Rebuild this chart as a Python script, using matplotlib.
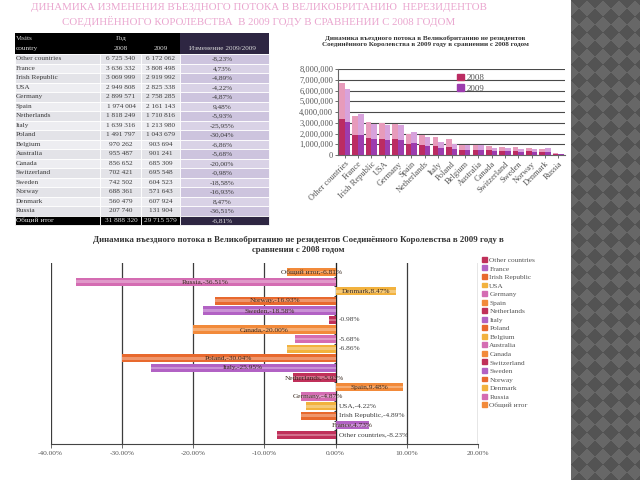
import matplotlib

matplotlib.use('Agg')  # no display
import matplotlib.pyplot as plt
import numpy as np
from matplotlib.patches import Rectangle, Patch

plt.rcParams['font.family'] = ['Liberation Serif', 'DejaVu Serif']

# data
countries = ['Other countries', 'France', 'Irish Republic', 'USA', 'Germany', 'Spain',
             'Netherlands', 'Italy', 'Poland', 'Belgium', 'Australia', 'Canada',
             'Switzerland', 'Sweden', 'Norway', 'Denmark', 'Russia']
visits_2008 = [6725340, 3636332, 3069999, 2949808, 2899571, 1974004, 1818249, 1639316,
               1491797, 970262, 955487, 856652, 702421, 742502, 688361, 560479, 207740]
visits_2009 = [6172062, 3808498, 2919992, 2825338, 2758285, 2161143, 1710816, 1213980,
               1043679, 903694, 901241, 685309, 695548, 604523, 571643, 607924, 131904]
change_pct = [-8.23, 4.73, -4.89, -4.22, -4.87, 9.48, -5.93, -25.95, -30.04, -6.86,
              -5.68, -20.00, -0.98, -18.58, -16.93, 8.47, -36.51]
total_name = 'Общий итог'
total_2008 = 31888320
total_2009 = 29715579
total_change = -6.81

slide_title = ['ДИНАМИКА ИЗМЕНЕНИЯ ВЪЕЗДНОГО ПОТОКА В ВЕЛИКОБРИТАНИЮ  НЕРЕЗИДЕНТОВ',
               'СОЕДИНЁННОГО КОРОЛЕВСТВА  В 2009 ГОДУ В СРАВНЕНИИ С 2008 ГОДОМ']
chart1_title = ('Динамика въездного потока в Великобританию не резидентов\n'
                'Соединённого Королевства в 2009 году в сравнении с 2008 годом')
chart2_title = ('Динамика въездного потока в Великобританию не резидентов '
                'Соединённого Королевства в 2009 году в\nсравнении с 2008 годом')

# labels of these bars sit right of zero instead of inside the bar
outside_labels = {'USA', 'Irish Republic', 'Other countries', 'Switzerland', 'Australia', 'Belgium'}
value_only = {'Switzerland', 'Australia', 'Belgium'}

bar_cycle = ['#c0305a', '#b262c4', '#e8692e', '#f2b23e', '#d46cb2', '#f28a3a']


def fmt_int(v):
    return '{:,}'.format(v).replace(',', ' ')


def fmt_pct(v):
    return '{:.2f}%'.format(v).replace('.', ',')


fig = plt.figure(figsize=(6.4, 4.8), dpi=100)

# page layer in pixel coordinates
bg = fig.add_axes([0, 0, 1, 1], zorder=0)
bg.set_xlim(0, 640)
bg.set_ylim(480, 0)
bg.axis('off')

# dark checkered strip on the right
yy, xx = np.mgrid[0:480, 0:69]
s = 16
pattern = (((xx + yy) // s) + ((xx - yy) // s)) % 2
bg.imshow(pattern, cmap=matplotlib.colors.ListedColormap(['#535353', '#676767']),
          extent=(571, 640, 480, 0), aspect='auto', interpolation='nearest')

# slide title
for k, line in enumerate(slide_title):
    bg.text(259, 7.5 + 14 * k, line, ha='center', va='center', fontsize=7.8, color='#eaa6cf')

# ---- table ----
col_edges = [15, 100, 141, 180, 269]
row_h = 9.5
head_top, head_bot = 33, 54.2
bg.add_patch(Rectangle((col_edges[0], head_top), col_edges[3] - col_edges[0], head_bot - head_top,
                       facecolor='black', edgecolor='none'))
bg.add_patch(Rectangle((col_edges[3], head_top), col_edges[4] - col_edges[3], head_bot - head_top,
                       facecolor='#2e2642', edgecolor='none'))
hdr = dict(fontsize=5.2, color='#d8d8d8', va='center')
bg.text(16, 38.5, 'Visits', ha='left', **hdr)
bg.text(16, 48.5, 'country', ha='left', **hdr)
bg.text(121, 38.5, 'Год', ha='center', **hdr)
bg.text(121, 48.5, '2008', ha='center', **hdr)
bg.text(160.5, 48.5, '2009', ha='center', **hdr)
bg.text(222, 48.5, 'Изменение 2009/2009', ha='center', **hdr)

cell_txt = dict(fontsize=5.2, color='#3a3a3a', va='center')
rows = list(zip(countries, visits_2008, visits_2009, change_pct))
for i, (name, a, b, c) in enumerate(rows):
    y0 = head_bot + i * row_h
    gray = '#e3e3e8' if i % 2 == 0 else '#ededf1'
    lav = '#cdc4de' if i % 2 == 0 else '#d9d2e6'
    for j in range(4):
        bg.add_patch(Rectangle((col_edges[j], y0), col_edges[j + 1] - col_edges[j], row_h,
                               facecolor=lav if j == 3 else gray, edgecolor='white', lw=0.6))
    yc = y0 + row_h / 2
    bg.text(16, yc, name, ha='left', **cell_txt)
    bg.text(121, yc, fmt_int(a), ha='center', **cell_txt)
    bg.text(160.5, yc, fmt_int(b), ha='center', **cell_txt)
    bg.text(222, yc, fmt_pct(c), ha='center', **cell_txt)

y0 = head_bot + len(rows) * row_h
for j in range(4):
    bg.add_patch(Rectangle((col_edges[j], y0), col_edges[j + 1] - col_edges[j], row_h,
                           facecolor='#2e2642' if j == 3 else 'black', edgecolor='white', lw=0.6))
tot = dict(fontsize=5.2, color='#e0e0e0', va='center')
yc = y0 + row_h / 2
bg.text(16, yc, total_name, ha='left', **tot)
bg.text(121, yc, fmt_int(total_2008), ha='center', **tot)
bg.text(160.5, yc, fmt_int(total_2009), ha='center', **tot)
bg.text(222, yc, fmt_pct(total_change), ha='center', **tot)

# ---- column chart ----
bg.text(425, 41.5, chart1_title, ha='center', va='center', fontsize=5.1, fontweight='bold',
        color='#333333', linespacing=1.25)

ax1 = fig.add_axes([338 / 640, 1 - 155 / 480, (565 - 338) / 640, (155 - 69) / 480], zorder=1)
ax1.set_facecolor('none')
x = np.arange(len(countries))
v08 = np.array(visits_2008)
v09 = np.array(visits_2009)
w = 0.42
ax1.bar(x - w / 2, v08, w, color='#e79bbb', zorder=3)
ax1.bar(x - w / 2, v08 / 2, w, color='#bb2c62', zorder=3)
ax1.bar(x + w / 2, v09, w, color='#d7a2dc', zorder=3)
ax1.bar(x + w / 2, v09 / 2, w, color='#9c3cae', zorder=3)
ax1.set_xlim(-0.5, len(countries) - 0.5)
ax1.set_ylim(0, 8000000)
ax1.set_yticks(np.arange(0, 8000001, 1000000))
ax1.set_yticklabels(['{:,}'.format(v) for v in range(0, 8000001, 1000000)])
ax1.yaxis.grid(True, color='#4a4a4a', lw=0.8)
ax1.set_axisbelow(True)
ax1.set_xticks(x)
ax1.set_xticklabels(countries, rotation=45, ha='right', rotation_mode='anchor')
ax1.tick_params(axis='both', labelsize=6.0, colors='#555555', length=2, width=0.6, pad=1.5)
for sp in ['top', 'right']:
    ax1.spines[sp].set_visible(False)
ax1.spines['left'].set_color('#666666')
ax1.spines['bottom'].set_color('#666666')
ax1.legend(handles=[Patch(color='#bb2c62'), Patch(color='#9c3cae')], labels=['2008', '2009'],
           loc='upper left', bbox_to_anchor=(0.49, 1.04), frameon=False, fontsize=6.5,
           handlelength=0.7, handleheight=0.7, handletextpad=0.3, labelspacing=0.25,
           labelcolor='#555555')

# ---- horizontal bar chart ----
bg.text(298, 245, chart2_title, ha='center', va='center', fontsize=6.3, fontweight='bold',
        color='#333333', linespacing=1.2)

ax2 = fig.add_axes([50.7 / 640, 1 - 444 / 480, (478 - 50.7) / 640, (444 - 263) / 480], zorder=1)
ax2.set_facecolor('none')
names = countries + [total_name]
values = change_pct + [total_change]
pos = np.arange(len(names))
colors = [bar_cycle[i % len(bar_cycle)] for i in range(len(names))]
ax2.barh(pos, values, height=0.86, color=colors, zorder=3)
ax2.barh(pos, values, height=0.28, color='white', alpha=0.3, lw=0, zorder=3)
for p, name, v in zip(pos, names, values):
    if name in value_only:
        ax2.text(0.45, p, '{:.2f}%'.format(v), ha='left', va='center', fontsize=5.3,
                 color='#404040', zorder=4)
    elif name in outside_labels:
        ax2.text(0.45, p, '{},{:.2f}%'.format(name, v), ha='left', va='center', fontsize=5.3,
                 color='#404040', zorder=4)
    else:
        ax2.text(v / 2, p, '{},{:.2f}%'.format(name, v), ha='center', va='center',
                 fontsize=5.3, color='#3a2a20', zorder=4)
ax2.set_xlim(-40, 20)
ax2.set_ylim(-0.95, len(names) - 0.05)
xt = np.arange(-40, 21, 10)
ax2.set_xticks(xt)
ax2.set_xticklabels(['{:.2f}%'.format(t) for t in xt])
ax2.xaxis.grid(True, color='#3c3c3c', lw=0.9)
ax2.set_axisbelow(True)
ax2.spines['left'].set_position(('data', 0))
ax2.spines['left'].set_color('#222222')
ax2.set_yticks(pos[:-1] + 0.5)
ax2.set_yticklabels([])
ax2.tick_params(axis='y', length=1.5, width=0.6, color='#222222')
ax2.tick_params(axis='x', labelsize=5.3, colors='#555555', length=3, width=0.6, pad=2)
ax2.spines['bottom'].set_color('#444444')
for sp in ['top', 'right']:
    ax2.spines[sp].set_visible(False)

handles = [Patch(color=c) for c in colors]
ax2.legend(handles=handles, labels=names, loc='upper left', bbox_to_anchor=(479 / 640, 1 - 254 / 480),
           bbox_transform=fig.transFigure, frameon=False, fontsize=5.3, handlelength=0.65,
           handleheight=0.65, handletextpad=0.35, labelspacing=0.34, borderaxespad=0,
           labelcolor='#555555')

fig.savefig('out.png', dpi=100)
